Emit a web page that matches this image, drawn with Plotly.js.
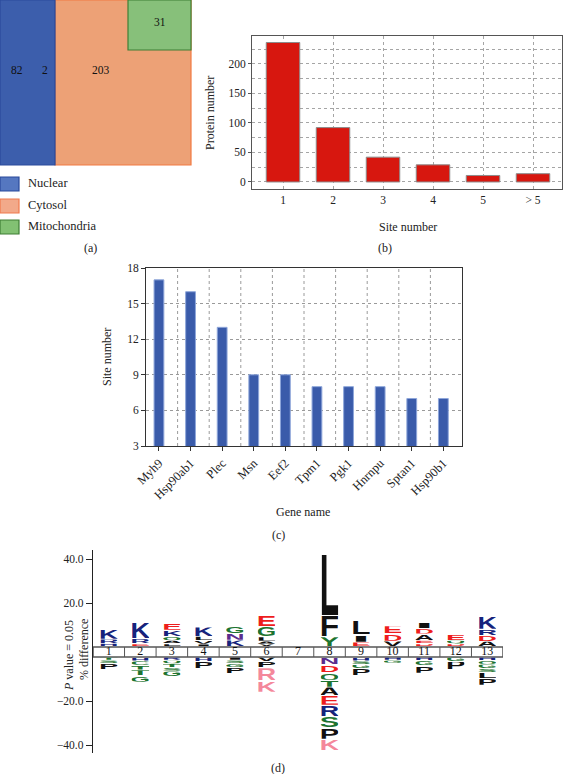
<!DOCTYPE html>
<html><head><meta charset="utf-8">
<script src="https://cdn.plot.ly/plotly-3.0.1.min.js"></script>
<style>html,body{margin:0;padding:0;background:#fff}#chart{width:563px;height:774px}</style>
</head><body><div id="chart"></div>
<script>
// ---------- data ----------
// (a) subcellular localisation
const vennLabels = ['Nuclear', 'Cytosol', 'Mitochondria'];
const vennCounts = [82, 2, 203, 31];
// (b) number of sites per protein
const siteCategories = ['1', '2', '3', '4', '5', '> 5'];
const proteinCounts = [236, 92, 42, 29, 11, 14];
// (c) top proteins by number of sites
const geneNames = ['Myh9', 'Hsp90ab1', 'Plec', 'Msn', 'Eef2', 'Tpm1', 'Pgk1', 'Hnrnpu', 'Sptan1', 'Hsp90b1'];
const geneSites = [17, 16, 13, 9, 9, 8, 8, 8, 7, 7];
// (d) motif logo (% difference), residues listed from the axis outward
const logoPositions = [1, 2, 3, 4, 5, 6, 7, 8, 9, 10, 11, 12, 13];
const upResidues = ['HRK', 'ERK', 'LAQKE', 'IVLK', 'KNG', 'VALGE', '', 'YFL', 'EIL', 'VDE', 'DEADI', 'DQE', 'ADRK'];
const upHeights = [
  [1.2, 1.6, 4.2], [1.0, 2.0, 7.3], [1.0, 1.2, 1.4, 2.6, 3.0], [0.9, 1.2, 1.6, 3.9], [2.7, 2.7, 3.0],
  [0.9, 1.0, 1.6, 4.4, 4.8], [], [4.2, 9.4, 28.2], [1.8, 3.0, 6.2], [2.2, 3.0, 3.3],
  [1.0, 1.2, 2.6, 2.2, 2.6], [1.0, 1.2, 2.6], [2.1, 2.3, 2.6, 5.3]
];
const downResidues = ['TSP', 'HCTTG', 'RQTSG', 'HP', 'ISGP', 'VPRK', '', 'NDQTAERSPK', 'HSGP', 'HG', 'HGP', 'GP', 'HQGSLP'];
const downHeights = [
  [0.9, 1.2, 2.5], [1.3, 1.6, 1.8, 2.2, 2.6], [1.0, 1.2, 1.3, 1.4, 2.2], [1.6, 2.7], [0.9, 1.2, 1.4, 2.6],
  [1.5, 2.6, 5.3, 5.0], [], [3.1, 3.2, 3.0, 2.9, 3.3, 4.1, 4.8, 4.8, 4.8, 4.9], [1.3, 1.3, 1.5, 2.8], [0.9, 1.0],
  [1.2, 2.0, 3.0], [1.6, 3.3], [1.1, 1.3, 1.7, 1.4, 2.3, 2.8]
];
const pinkResidues = [[6, 'R'], [6, 'K'], [8, 'K']];

// ---------- styling helpers ----------
const W = 563, H = 774;
const SERIF = 'Liberation Serif, DejaVu Serif, serif';
const px = x => x / W, py = y => 1 - y / H;
const residueColor = {K:'#16237C',R:'#16237C',H:'#16237C',D:'#EE1D1D',E:'#EE1D1D',G:'#1D7430',S:'#1D7430',T:'#1D7430',Y:'#1D7430',C:'#1D7430',Q:'#1D7430',N:'#5A2D8E',A:'#111',V:'#111',L:'#111',I:'#111',P:'#111',F:'#111',M:'#111',W:'#111'};
const PINK = '#F4889B';
const BOX = 4.5, START = 0.3, GAP = 0.35, LETTER_W = 0.56;

function letterSrc(ch, color) {
  const svg = '<svg xmlns="http://www.w3.org/2000/svg" viewBox="0 0 100 100" preserveAspectRatio="none" width="100" height="100">' +
    '<text x="-5" y="100" font-family="Liberation Sans, Arial, sans-serif" font-weight="bold" font-size="139.7" textLength="110" lengthAdjust="spacingAndGlyphs" fill="' + color + '">' + ch + '</text></svg>';
  return 'data:image/svg+xml;charset=utf-8,' + encodeURIComponent(svg);
}

const images = [];
logoPositions.forEach((pos, i) => {
  let base = START;
  upResidues[i].split('').forEach((ch, j) => {
    const h = upHeights[i][j];
    images.push({source: letterSrc(ch, residueColor[ch]), xref: 'x3', yref: 'y3', x: pos, y: base + h, sizex: LETTER_W, sizey: h,
      xanchor: 'center', yanchor: 'top', sizing: 'stretch', layer: 'above'});
    base += h + GAP;
  });
  base = -BOX - START;
  downResidues[i].split('').forEach((ch, j) => {
    const h = downHeights[i][j];
    const isPink = pinkResidues.some(p => p[0] === pos && p[1] === ch);
    images.push({source: letterSrc(ch, isPink ? PINK : residueColor[ch]), xref: 'x3', yref: 'y3', x: pos, y: base, sizex: LETTER_W, sizey: h,
      xanchor: 'center', yanchor: 'top', sizing: 'stretch', layer: 'above'});
    base -= h + GAP;
  });
});

// ---------- traces ----------
const traces = [
  {type: 'bar', x: siteCategories, y: proteinCounts, xaxis: 'x', yaxis: 'y', width: 0.67,
   marker: {color: '#D7170F', line: {color: '#8c8c8c', width: 1}}, hoverinfo: 'skip'},
  {type: 'bar', x: geneNames, y: geneSites, xaxis: 'x2', yaxis: 'y2', width: 0.31,
   marker: {color: '#3A5BAA', line: {color: '#8EA6DA', width: 1}}, hoverinfo: 'skip'},
  {type: 'scatter', mode: 'text', x: logoPositions, y: logoPositions.map(() => -BOX / 2), text: logoPositions.map(String),
   textfont: {family: SERIF, size: 12, color: '#111'}, xaxis: 'x3', yaxis: 'y3', hoverinfo: 'skip'}
];

// ---------- shapes ----------
const shapes = [];
// (a) rectangles
shapes.push({type: 'rect', xref: 'paper', yref: 'paper', x0: px(55), x1: px(191), y0: py(165), y1: py(0), fillcolor: '#EDA176', line: {color: '#F27A42', width: 1.2}});
shapes.push({type: 'rect', xref: 'paper', yref: 'paper', x0: px(0), x1: px(55), y0: py(165), y1: py(0), fillcolor: '#3C5EAC', line: {color: '#2A4A9B', width: 1.2}});
shapes.push({type: 'rect', xref: 'paper', yref: 'paper', x0: px(128), x1: px(191), y0: py(50), y1: py(0), fillcolor: '#87C07A', line: {color: '#3F7F35', width: 1.2}});
// (a) legend swatches
const legendFill = ['#5577C0', '#F2A98A', '#82C173'];
const legendLine = ['#2A4A9B', '#F07A4E', '#3F7F35'];
const legendY = [177, 199, 220];
vennLabels.forEach((lab, i) => {
  shapes.push({type: 'rect', xref: 'paper', yref: 'paper', x0: px(0), x1: px(19), y0: py(legendY[i] + 14), y1: py(legendY[i]),
    fillcolor: legendFill[i], line: {color: legendLine[i], width: 1.2}});
});
// (c) vertical dotted grid at tenths
for (let k = 1; k < 10; k++) {
  shapes.push({type: 'line', xref: 'x2 domain', yref: 'y2 domain', x0: k / 10, x1: k / 10, y0: 0, y1: 1, layer: 'below',
    line: {color: '#9a9a9a', width: 1, dash: 'dot'}});
}
// (d) position box
shapes.push({type: 'rect', xref: 'x3', yref: 'y3', x0: 0.5, x1: 13.5, y0: -BOX, y1: 0, fillcolor: '#fff', line: {color: '#555', width: 1.5}, layer: 'below'});
for (let k = 1; k < 13; k++) {
  shapes.push({type: 'line', xref: 'x3', yref: 'y3', x0: k + 0.5, x1: k + 0.5, y0: -BOX, y1: 0, line: {color: '#555', width: 1}});
}

// ---------- annotations ----------
const ann = [];
const A = (o) => Object.assign({xref: 'paper', yref: 'paper', showarrow: false, xanchor: 'center', yanchor: 'middle'}, o);
const vennPos = [[17, 70], [45, 70], [101, 70], [160, 22]];
vennCounts.forEach((c, i) => ann.push(A({x: px(vennPos[i][0]), y: py(vennPos[i][1]), text: String(c),
  font: {family: SERIF, size: 11.5, color: '#111'}})));
vennLabels.forEach((lab, i) => ann.push(A({x: px(26), y: py(legendY[i] + 6), xanchor: 'left', text: lab,
  font: {family: SERIF, size: 12.5, color: '#222'}})));
const panelLabels = [['(a)', 90, 248], ['(b)', 385, 248], ['(c)', 278, 535], ['(d)', 278, 768]];
panelLabels.forEach(p => ann.push(A({x: px(p[1]), y: py(p[2]), text: p[0], font: {family: SERIF, size: 12, color: '#222'}})));
const titles = [['Site number', 408, 227, 0], ['Protein number', 210, 113, -90], ['Gene name', 303, 512, 0], ['Site number', 107, 357, -90],
  ['<i>P</i> value = 0.05', 69, 656, -90], ['% difference', 84, 650, -90]];
titles.forEach(t => ann.push(A({x: px(t[1]), y: py(t[2]), text: t[0], textangle: t[3], font: {family: SERIF, size: 12, color: '#222'}})));
// axis arrows for the logo
ann.push({xref: 'x3', yref: 'y3', x: 0.5, y: 44.6, ax: 0, ay: 12, text: '', showarrow: true, arrowhead: 5, arrowsize: 0.8, arrowwidth: 1.2, arrowcolor: '#222', standoff: 0});
ann.push({xref: 'x3', yref: 'y3', x: 0.5, y: -48.6, ax: 0, ay: -12, text: '', showarrow: true, arrowhead: 5, arrowsize: 0.8, arrowwidth: 1.2, arrowcolor: '#222', standoff: 0});

const tickFont = {family: SERIF, size: 11.5, color: '#222'};
const layout = {
  width: W, height: H, margin: {l: 0, r: 0, t: 0, b: 0}, paper_bgcolor: '#fff', plot_bgcolor: '#fff', showlegend: false,
  font: {family: SERIF},
  xaxis: {domain: [px(252), px(562)], anchor: 'y', type: 'category', range: [-0.62, 5.58], showline: true, mirror: true, linecolor: '#555', linewidth: 1,
    showgrid: true, gridcolor: '#a5a5a5', griddash: 'dot', ticks: '', tickfont: tickFont, zeroline: false, fixedrange: true},
  yaxis: {domain: [py(189), py(36)], anchor: 'x', range: [-11.9, 247], tickvals: [0, 50, 100, 150, 200], showline: true, mirror: true, linecolor: '#555', linewidth: 1,
    showgrid: true, gridcolor: '#a5a5a5', griddash: 'dot', minor: {tickmode: 'linear', tick0: 0, dtick: 25, showgrid: true, gridcolor: '#a5a5a5', griddash: 'dot'},
    ticks: 'outside', ticklen: 3, tickcolor: '#555', tickfont: tickFont, zeroline: false},
  xaxis2: {domain: [px(146), px(462)], anchor: 'y2', type: 'category', range: [-0.41, 9.59], showline: true, mirror: true, linecolor: '#333', linewidth: 1,
    showgrid: false, ticks: 'outside', ticklen: 4, tickcolor: '#333', tickangle: -45, tickfont: {family: SERIF, size: 12.5, color: '#222'}, zeroline: false},
  yaxis2: {domain: [py(446), py(268)], anchor: 'x2', range: [3, 18], tickvals: [3, 6, 9, 12, 15, 18], showline: true, mirror: true, linecolor: '#333', linewidth: 1,
    showgrid: true, gridcolor: '#9a9a9a', griddash: 'dot', ticks: 'outside', ticklen: 4, tickcolor: '#333', tickfont: tickFont, zeroline: false},
  xaxis3: {domain: [px(93), px(503)], anchor: 'y3', range: [0.5, 13.5], visible: false},
  yaxis3: {domain: [py(753), py(550)], anchor: 'x3', range: [-48.1, 44.1], tickvals: [40, 20, -24.5, -44.5], ticktext: ['40.0', '20.0', '\u221220.0', '\u221240.0'],
    showline: true, linecolor: '#222', linewidth: 1.2, ticks: 'outside', ticklen: 6, tickcolor: '#222', showgrid: false, zeroline: false, tickfont: tickFont},
  shapes: shapes, annotations: ann, images: images
};
Plotly.newPlot('chart', traces, layout, {staticPlot: true});
</script></body></html>
